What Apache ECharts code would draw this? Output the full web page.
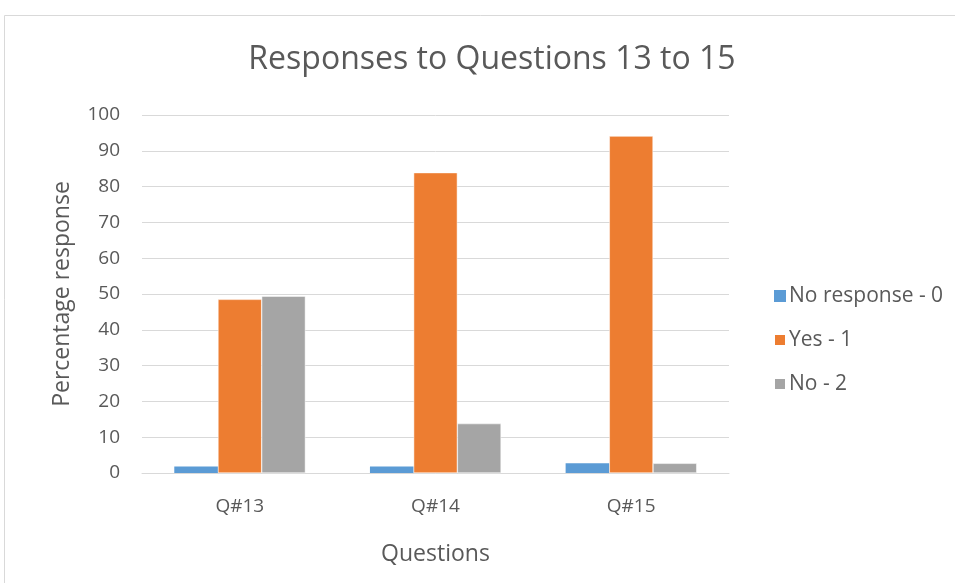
<!DOCTYPE html>
<html>
<head>
<meta charset="utf-8">
<script src="https://cdn.jsdelivr.net/npm/echarts@6/dist/echarts.min.js"></script>
<style>
  html, body { margin: 0; padding: 0; background: #fff; }
  #chart { width: 955px; height: 583px; }
</style>
</head>
<body>
<div id="chart"></div>
<script>
const questions = ['Q#13', 'Q#14', 'Q#15']
const noResponse = [1.8, 1.8, 2.7]
const yes = [48.5, 83.9, 94.1]
const no = [49.4, 13.8, 2.7]

const textColor = '#595959'
const font = 'Open Sans'

const chart = echarts.init(document.getElementById('chart'))
chart.setOption({
  animation: false,
  color: ['#5B9BD5', '#ED7D31', '#A5A5A5'],
  textStyle: { fontFamily: font, color: textColor },
  graphic: [
    {
      type: 'rect',
      shape: { x: 4.5, y: 15.5, width: 1000, height: 1000 },
      style: { fill: 'none', stroke: '#D9D9D9', lineWidth: 1 },
      silent: true
    }
  ],
  title: {
    text: 'Responses to Questions 13 to 15',
    left: 487,
    textAlign: 'center',
    top: 39,
    textStyle: { fontFamily: font, fontSize: 32, fontWeight: 'normal', color: textColor }
  },
  legend: {
    orient: 'vertical',
    left: 768,
    top: 279,
    itemWidth: 12,
    itemHeight: 12,
    itemGap: 20,
    icon: 'rect',
    textStyle: { fontFamily: font, fontSize: 21, lineHeight: 24, color: textColor, padding: [0, 0, 0, -2] }
  },
  grid: { left: 142, right: 226, top: 115, bottom: 110 },
  xAxis: {
    type: 'category',
    data: questions,
    name: 'Questions',
    nameLocation: 'middle',
    nameGap: 70,
    nameTextStyle: { fontFamily: font, fontSize: 23, color: textColor },
    axisLine: { lineStyle: { color: '#D9D9D9', width: 1 } },
    axisTick: { show: false },
    axisLabel: { fontFamily: font, fontSize: 19, color: textColor, margin: 24 }
  },
  yAxis: {
    type: 'value',
    min: 0,
    max: 100,
    interval: 10,
    name: 'Percentage response',
    nameLocation: 'middle',
    nameGap: 68,
    nameTextStyle: { fontFamily: font, fontSize: 23, color: textColor },
    axisLine: { show: false },
    axisTick: { show: false },
    axisLabel: { fontFamily: font, fontSize: 19, color: textColor, margin: 22 },
    splitLine: { lineStyle: { color: '#D9D9D9', width: 1 } }
  },
  series: [
    {
      name: 'No response - 0',
      type: 'bar',
      data: noResponse,
      barGap: '0%',
      barCategoryGap: '33%'
    },
    {
      name: 'Yes - 1',
      type: 'bar',
      data: yes,
      itemStyle: { borderColor: '#fff', borderWidth: 0.5 }
    },
    {
      name: 'No - 2',
      type: 'bar',
      data: no,
      itemStyle: { borderColor: '#fff', borderWidth: 0.5 }
    }
  ]
})
</script>
</body>
</html>
